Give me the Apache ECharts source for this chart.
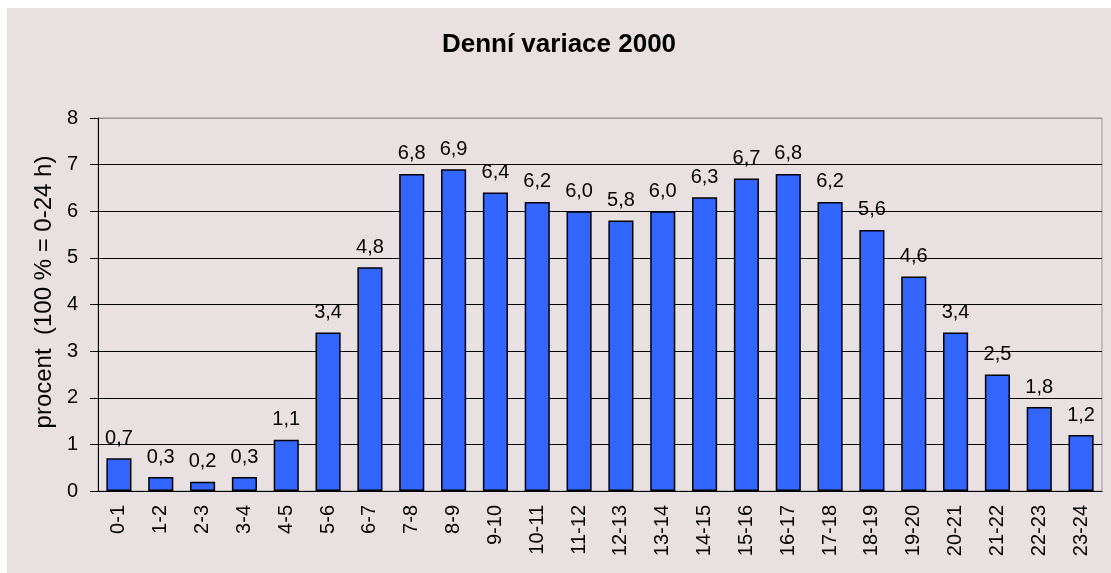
<!DOCTYPE html>
<html>
<head>
<meta charset="utf-8">
<script src="https://cdn.jsdelivr.net/npm/echarts@6/dist/echarts.min.js"></script>
<style>
  html, body { margin: 0; padding: 0; background: #fff; }
  #chart { position: absolute; left: 7px; top: 8px; width: 1104px; height: 565px; background: #e9e1e1; }
</style>
</head>
<body>
<div id="chart"></div>
<script>
  // hodiny dne
  var hours = ['0-1', '1-2', '2-3', '3-4', '4-5', '5-6', '6-7', '7-8', '8-9', '9-10', '10-11', '11-12',
    '12-13', '13-14', '14-15', '15-16', '16-17', '17-18', '18-19', '19-20', '20-21', '21-22', '22-23', '23-24'];
  // procento denni intenzity
  var percent = [0.7, 0.3, 0.2, 0.3, 1.1, 3.4, 4.8, 6.8, 6.9, 6.4, 6.2, 6.0,
    5.8, 6.0, 6.3, 6.7, 6.8, 6.2, 5.6, 4.6, 3.4, 2.5, 1.8, 1.2];
  var yTicks = [0, 1, 2, 3, 4, 5, 6, 7, 8];

  var font = '"Liberation Sans", Arial, sans-serif';
  // mrizka cerna, horni okraj sedy
  var gridColors = yTicks.map(function (v, i) {
    return i === yTicks.length - 1 ? '#999999' : '#000000';
  });

  var myChart = echarts.init(document.getElementById('chart'));
  myChart.setOption({
    animation: false,
    title: {
      text: 'Denní variace 2000',
      left: 'center',
      top: 19,
      textStyle: { fontFamily: font, fontSize: 26, fontWeight: 'bold', color: '#000' }
    },
    grid: {
      left: 91, top: 110, right: 9, bottom: 82,
      show: true, borderColor: '#999999', borderWidth: 1, backgroundColor: 'transparent'
    },
    xAxis: {
      type: 'category',
      data: hours,
      axisLine: { lineStyle: { color: '#000', width: 1 } },
      axisTick: { length: 6, lineStyle: { color: '#000' } },
      axisLabel: { rotate: 90, interval: 0, margin: 14, fontFamily: font, fontSize: 20, color: '#000' }
    },
    yAxis: {
      type: 'value',
      min: yTicks[0],
      max: yTicks[yTicks.length - 1],
      interval: 1,
      name: 'procent  (100 % = 0-24 h)',
      nameLocation: 'middle',
      nameGap: 42,
      nameTextStyle: { fontFamily: font, fontSize: 24, color: '#000', padding: [0, 0, 0, 25] },
      axisLine: { show: true, lineStyle: { color: '#000', width: 1 } },
      axisTick: { show: true, length: 8, lineStyle: { color: '#000' } },
      axisLabel: { margin: 20, fontFamily: font, fontSize: 20, color: '#000' },
      splitLine: { show: true, lineStyle: { color: gridColors, width: 1 } }
    },
    series: [{
      type: 'bar',
      data: percent,
      barCategoryGap: '40%',
      itemStyle: { color: '#3366ff', borderColor: '#000', borderWidth: 1.5 },
      label: {
        show: true,
        position: 'top',
        distance: 10,
        fontFamily: font,
        fontSize: 20,
        color: '#000',
        formatter: function (p) { return p.value.toFixed(1).replace('.', ','); }
      }
    }]
  });
</script>
</body>
</html>
